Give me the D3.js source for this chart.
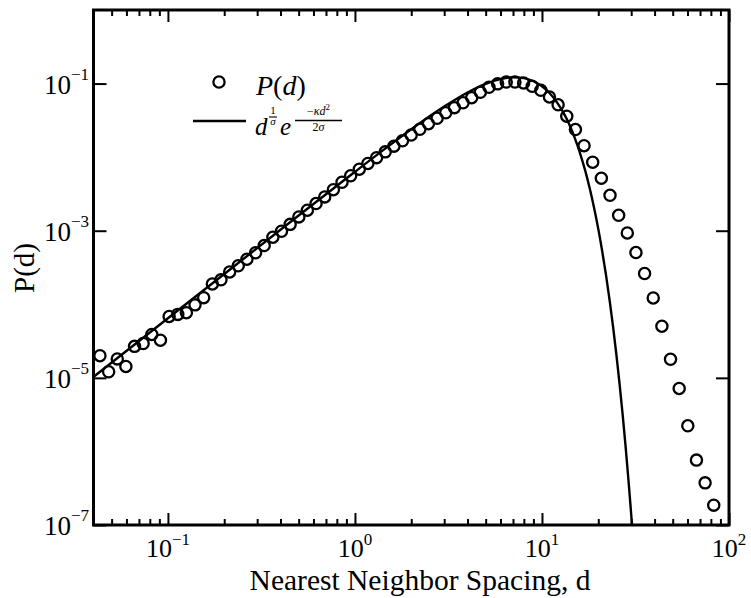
<!DOCTYPE html>
<html>
<head>
<meta charset="utf-8">
<script src="https://cdn.jsdelivr.net/npm/d3@7"></script>
<style>
  html, body { margin: 0; padding: 0; background: #fff; }
  svg { display: block; }
</style>
</head>
<body>
<svg id="chart" width="751" height="598" font-family="'Liberation Serif', 'Times New Roman', Times, 'DejaVu Serif', serif"></svg>
<script>
// ---- data ----
const spacingD = [0.0433, 0.0482, 0.0536, 0.0596, 0.0663, 0.0737, 0.0820, 0.0912, 0.1015, 0.1129,
  0.1255, 0.1396, 0.1553, 0.1728, 0.1922, 0.2138, 0.2377, 0.2645, 0.2942, 0.3272,
  0.3640, 0.4049, 0.4504, 0.5010, 0.5569, 0.6196, 0.6893, 0.7667, 0.8528, 0.9484,
  1.055, 1.173, 1.305, 1.452, 1.615, 1.796, 1.998, 2.223, 2.472, 2.750,
  3.059, 3.402, 3.785, 4.209, 4.682, 5.208, 5.792, 6.442, 7.166, 7.971,
  8.866, 9.861, 10.97, 12.20, 13.57, 15.10, 16.79, 18.67, 20.77, 23.11,
  25.70, 28.59, 31.80, 35.37, 39.34, 43.77, 48.68, 54.15, 60.22, 66.99,
  74.51, 82.87];
const probP = [2.00e-5, 1.21e-5, 1.81e-5, 1.43e-5, 2.68e-5, 2.93e-5, 3.89e-5, 3.25e-5, 6.83e-5, 7.29e-5,
  7.69e-5, 9.82e-5, 1.23e-4, 1.89e-4, 2.15e-4, 2.75e-4, 3.34e-4, 4.10e-4, 5.02e-4, 6.29e-4,
  8.16e-4, 9.84e-4, 1.22e-3, 1.54e-3, 1.90e-3, 2.34e-3, 2.88e-3, 3.61e-3, 4.56e-3, 5.58e-3,
  6.86e-3, 8.21e-3, 9.84e-3, 1.18e-2, 1.41e-2, 1.67e-2, 2.00e-2, 2.39e-2, 2.85e-2, 3.38e-2,
  4.01e-2, 4.71e-2, 5.48e-2, 6.43e-2, 7.62e-2, 8.91e-2, 9.91e-2, 0.105, 0.105, 0.102,
  9.19e-2, 8.11e-2, 6.58e-2, 5.15e-2, 3.60e-2, 2.37e-2, 1.43e-2, 8.53e-3, 5.17e-3, 3.03e-3,
  1.62e-3, 9.33e-4, 5.05e-4, 2.62e-4, 1.22e-4, 5.04e-5, 1.79e-5, 7.18e-6, 2.23e-6, 7.62e-7,
  3.74e-7, 1.86e-7];

const fitD = [0.04, 0.1, 0.3, 0.5, 1, 1.5, 2, 3, 4, 5, 6, 7, 8, 9, 10, 11, 12, 13, 14, 15,
  16, 17, 18, 19, 20, 21, 22, 23, 24, 25, 26, 27, 28, 29, 30, 31];
const fitP = [1.03e-5, 6.46e-5, 5.80e-4, 1.61e-3, 6.33e-3, 1.39e-2, 2.39e-2, 4.87e-2, 7.56e-2, 9.91e-2,
  0.115, 0.1216, 0.1186, 0.1076, 9.18e-2, 7.38e-2, 5.60e-2, 4.05e-2, 2.77e-2, 1.80e-2,
  1.12e-2, 6.66e-3, 3.78e-3, 2.04e-3, 1.06e-3, 5.24e-4, 2.49e-4, 1.13e-4, 4.92e-5, 2.06e-5,
  8.22e-6, 3.16e-6, 1.16e-6, 4.09e-7, 1.39e-7, 4.5e-8];

const xMajorTicks = [0.1, 1, 10, 100];
const xMajorExponents = ["\u22121", "0", "1", "2"];
const xMinorTicks = [0.05, 0.06, 0.07, 0.08, 0.09, 0.2, 0.3, 0.4, 0.5, 0.6, 0.7, 0.8, 0.9,
  2, 3, 4, 5, 6, 7, 8, 9, 20, 30, 40, 50, 60, 70, 80, 90];
const yMajorTicks = [1e-7, 1e-5, 1e-3, 1e-1];
const yMajorExponents = ["\u22127", "\u22125", "\u22123", "\u22121"];

const xTitle = "Nearest Neighbor Spacing, d";
const yTitle = "P(d)";

// ---- layout ----
const FONT = "'Liberation Serif', 'Times New Roman', Times, 'DejaVu Serif', serif";
const L = 93.5, R = 729, T = 10, B = 525;

const svg = d3.select("#chart");
const x = d3.scaleLog().domain([0.04, 100]).range([L, R]);
const y = d3.scaleLog().domain([1e-7, 1]).range([B, T]);

svg.append("defs").append("clipPath").attr("id", "plotClip")
  .append("rect").attr("x", L).attr("y", T).attr("width", R - L).attr("height", B - T);

// fit line
const line = d3.line().x((d, i) => x(fitD[i])).y((d, i) => y(fitP[i])).curve(d3.curveMonotoneX);
svg.append("path")
  .datum(fitD)
  .attr("clip-path", "url(#plotClip)")
  .attr("d", line)
  .attr("fill", "none").attr("stroke", "#000").attr("stroke-width", 2.4);

// data circles
svg.append("g").selectAll("circle")
  .data(spacingD)
  .join("circle")
  .attr("cx", d => x(d))
  .attr("cy", (d, i) => y(probP[i]))
  .attr("r", 5.6)
  .attr("fill", "none").attr("stroke", "#000").attr("stroke-width", 2.3);

// axes ticks (inward)
function styleAxis(g) {
  g.select(".domain").remove();
  g.selectAll(".tick line").attr("stroke", "#000").attr("stroke-width", 2);
  g.selectAll(".tick text").remove();
}
svg.append("g").attr("transform", `translate(0,${B})`)
  .call(d3.axisBottom(x).tickValues(xMajorTicks).tickSize(-12).tickFormat(""))
  .call(styleAxis);
svg.append("g").attr("transform", `translate(0,${B})`)
  .call(d3.axisBottom(x).tickValues(xMinorTicks).tickSize(-6).tickFormat(""))
  .call(styleAxis);
svg.append("g").attr("transform", `translate(0,${T})`)
  .call(d3.axisTop(x).tickValues(xMajorTicks).tickSize(-12).tickFormat(""))
  .call(styleAxis);
svg.append("g").attr("transform", `translate(0,${T})`)
  .call(d3.axisTop(x).tickValues(xMinorTicks).tickSize(-6).tickFormat(""))
  .call(styleAxis);
svg.append("g").attr("transform", `translate(${L},0)`)
  .call(d3.axisLeft(y).tickValues(yMajorTicks).tickSize(-13).tickFormat(""))
  .call(styleAxis);
svg.append("g").attr("transform", `translate(${R},0)`)
  .call(d3.axisRight(y).tickValues(yMajorTicks).tickSize(-13).tickFormat(""))
  .call(styleAxis);

// frame
svg.append("rect").attr("x", L).attr("y", T).attr("width", R - L).attr("height", B - T)
  .attr("fill", "none").attr("stroke", "#000").attr("stroke-width", 3);

function txt(parent) {
  return parent.append("text").attr("font-family", FONT).attr("fill", "#000");
}

// x tick labels
const xl = svg.append("g");
xMajorTicks.forEach((v, i) => {
  const t = txt(xl).attr("x", x(v)).attr("y", 557)
    .attr("text-anchor", "middle").attr("font-size", 26);
  t.append("tspan").text("10");
  t.append("tspan").attr("font-size", 17).attr("dy", -12).text(xMajorExponents[i]);
});
// y tick labels
const yl = svg.append("g");
yMajorTicks.forEach((v, i) => {
  const t = txt(yl).attr("x", 89).attr("y", y(v) + 10)
    .attr("text-anchor", "end").attr("font-size", 27);
  t.append("tspan").text("10");
  t.append("tspan").attr("font-size", 17).attr("dy", -14).text(yMajorExponents[i]);
});

// axis titles
txt(svg).attr("x", 420).attr("y", 590).attr("text-anchor", "middle")
  .attr("font-size", 29.5).text(xTitle);
txt(svg).attr("transform", "translate(34,268) rotate(-90)")
  .attr("text-anchor", "middle").attr("font-size", 29).text(yTitle);

// legend
const lg = svg.append("g");
lg.append("circle").attr("cx", 219).attr("cy", 82).attr("r", 5.6)
  .attr("fill", "none").attr("stroke", "#000").attr("stroke-width", 2.3);
const lt = txt(lg).attr("x", 256).attr("y", 95).attr("font-size", 28);
lt.append("tspan").attr("font-style", "italic").text("P");
lt.append("tspan").text("(");
lt.append("tspan").attr("font-style", "italic").text("d");
lt.append("tspan").text(")");

lg.append("line").attr("x1", 193).attr("x2", 246).attr("y1", 121).attr("y2", 121)
  .attr("stroke", "#000").attr("stroke-width", 2.4);
txt(lg).attr("x", 255).attr("y", 135).attr("font-size", 25)
  .attr("font-style", "italic").text("d");
txt(lg).attr("x", 273).attr("y", 113.5).attr("font-size", 11)
  .attr("text-anchor", "middle").text("1");
lg.append("line").attr("x1", 269).attr("x2", 277).attr("y1", 117).attr("y2", 117)
  .attr("stroke", "#000").attr("stroke-width", 1.1);
txt(lg).attr("x", 273).attr("y", 125).attr("font-size", 11)
  .attr("text-anchor", "middle").attr("font-style", "italic").text("σ");
txt(lg).attr("x", 280).attr("y", 135).attr("font-size", 25)
  .attr("font-style", "italic").text("e");
const num = txt(lg).attr("x", 318.5).attr("y", 115).attr("font-size", 12)
  .attr("text-anchor", "middle");
num.append("tspan").text("\u2212");
num.append("tspan").attr("font-style", "italic").text("κd");
num.append("tspan").attr("font-size", 9).attr("dy", -5).text("2");
lg.append("line").attr("x1", 295).attr("x2", 342).attr("y1", 120.5).attr("y2", 120.5)
  .attr("stroke", "#000").attr("stroke-width", 1.3);
const den = txt(lg).attr("x", 318.5).attr("y", 131).attr("font-size", 12)
  .attr("text-anchor", "middle");
den.append("tspan").text("2");
den.append("tspan").attr("font-style", "italic").text("σ");
</script>
</body>
</html>
